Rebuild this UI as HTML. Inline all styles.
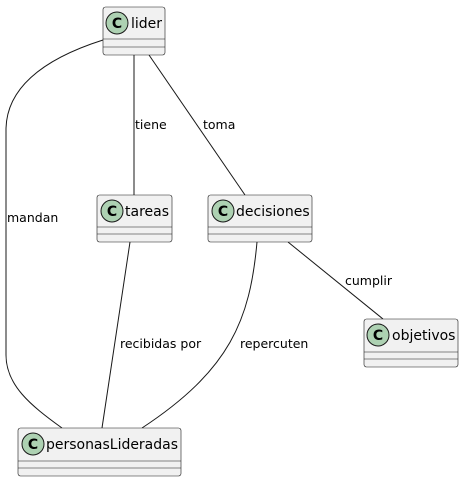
<!DOCTYPE html>
<html><head><style>html,body{margin:0;padding:0;background:#fff}svg{display:block}</style></head><body>
<svg width="464" height="482" viewBox="0 0 464 482" xmlns="http://www.w3.org/2000/svg" font-family="'DejaVu Sans','Liberation Sans',sans-serif">
<g fill="none" stroke="#181818" stroke-width="1">
<path d="M103,40 C40,60 6,90 6,130 L6,355 C6,385 30,405 62,428"/>
<path d="M134,55 L134,195"/>
<path d="M149,55 L245,195"/>
<path d="M130,242 L102,428"/>
<path d="M257,242 C250,320 230,370 142,428"/>
<path d="M288,242 L383,319"/>
</g>
<g font-size="12.5" fill="#000">
<text x="7" y="222">mandan</text>
<text x="135" y="129">tiene</text>
<text x="203" y="129">toma</text>
<text x="120" y="348">recibidas por</text>
<text x="240" y="348">repercuten</text>
<text x="345" y="285">cumplir</text>
</g>
<g stroke="#181818" stroke-width="0.6">
<rect x="103" y="7" width="62" height="48" rx="2.5" fill="#f1f1f1"/>
<line x1="103" y1="39" x2="165" y2="39"/><line x1="103" y1="47" x2="165" y2="47"/>
<rect x="97" y="195" width="75" height="47" rx="2.5" fill="#f1f1f1"/>
<line x1="97" y1="227" x2="172" y2="227"/><line x1="97" y1="234" x2="172" y2="234"/>
<rect x="208" y="195" width="104" height="47" rx="2.5" fill="#f1f1f1"/>
<line x1="208" y1="227" x2="312" y2="227"/><line x1="208" y1="234" x2="312" y2="234"/>
<rect x="364" y="319" width="94" height="48" rx="2.5" fill="#f1f1f1"/>
<line x1="364" y1="352" x2="458" y2="352"/><line x1="364" y1="359" x2="458" y2="359"/>
<rect x="18" y="428" width="163" height="48" rx="2.5" fill="#f1f1f1"/>
<line x1="18" y1="461" x2="181" y2="461"/><line x1="18" y1="468" x2="181" y2="468"/>
<g fill="#add1b2" stroke="#181818" stroke-width="1">
<circle cx="117" cy="23" r="11"/><circle cx="112" cy="211" r="11"/><circle cx="223" cy="211" r="11"/>
<circle cx="378" cy="335" r="11"/><circle cx="33" cy="444" r="11"/>
</g>
</g>
<g font-size="14" font-weight="bold" fill="#000" text-anchor="middle">
<text x="117" y="28">C</text><text x="112" y="216">C</text><text x="223" y="216">C</text>
<text x="378" y="340">C</text><text x="33" y="449">C</text>
</g>
<g font-size="14" fill="#000">
<text x="131" y="28">lider</text>
<text x="125" y="216">tareas</text>
<text x="236" y="216">decisiones</text>
<text x="392" y="340">objetivos</text>
<text x="46" y="449" textLength="132">personasLideradas</text>
</g>
</svg>
</body></html>
